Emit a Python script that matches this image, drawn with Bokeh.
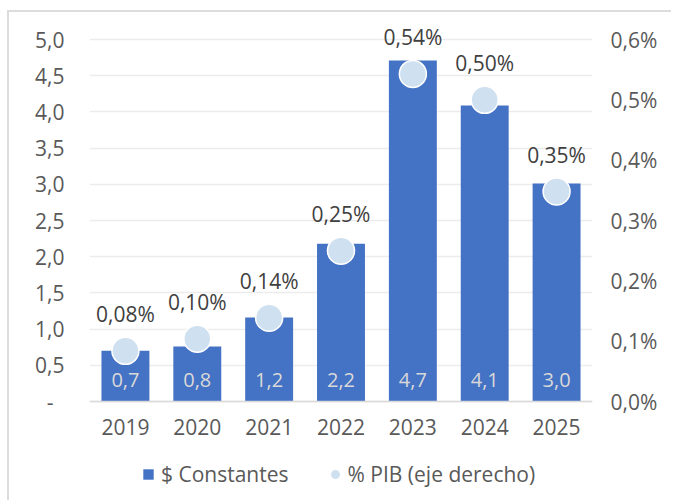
from bokeh.plotting import figure
from bokeh.models import (ColumnDataSource, Range1d, LinearAxis, FixedTicker,
                          CustomJSTickFormatter, Legend, LegendItem, Span)
from bokeh.core.properties import value
from bokeh.embed import file_html
from bokeh.resources import INLINE

# ---- data ----
years = ["2019", "2020", "2021", "2022", "2023", "2024", "2025"]
constantes = [0.70, 0.76, 1.16, 2.18, 4.71, 4.09, 3.01]
pct_pib = [0.084, 0.104, 0.139, 0.250, 0.543, 0.500, 0.348]
left_ticks = [0.0, 0.5, 1.0, 1.5, 2.0, 2.5, 3.0, 3.5, 4.0, 4.5, 5.0]
right_ticks = [0.0, 0.1, 0.2, 0.3, 0.4, 0.5, 0.6]

const_labels = [f"{v:.1f}".replace(".", ",") for v in constantes]
pct_labels = [f"{v:.2f}".replace(".", ",") + "%" for v in pct_pib]

FONT = "Open Sans"
FS = "21px"
BAR = "#4472C4"
DOT = "#cfe0f1"
AXIS_TXT = "#595959"
LBL_TXT = "#404040"

# the plot frame also covers the category labels and the legend strip
Y_MAX = 5.304
Y_MIN = -1.395
RATIO = 0.12  # 0.6% on the right == 5.0 on the left

src = ColumnDataSource(dict(year=years, const=constantes, pct=pct_pib,
                            const_label=const_labels, pct_label=pct_labels))

p = figure(x_range=years, y_range=Range1d(Y_MIN, Y_MAX), width=664, height=490,
           output_backend="svg", toolbar_location=None, x_axis_location=None,
           min_border_left=80, min_border_right=81, min_border_top=5,
           min_border_bottom=0, outline_line_color=None,
           background_fill_color="white", border_fill_color="white",
           margin=(10, 0, 0, 7),
           styles={"border-top": "2px solid #dcdcdc",
                   "border-left": "2px solid #dcdcdc"})

p.extra_y_ranges = {"pct": Range1d(Y_MIN * RATIO, Y_MAX * RATIO)}

# left axis
lt = FixedTicker(ticks=left_ticks)
p.yaxis.ticker = lt
p.yaxis.formatter = CustomJSTickFormatter(
    code="return tick == 0 ? '-\\u00a0\\u00a0' : tick.toFixed(1).replace('.', ',');")
p.ygrid.ticker = lt
p.ygrid.grid_line_color = "#ececec"
p.ygrid.grid_line_width = 1.5
p.xgrid.grid_line_color = None

# right axis
ra = LinearAxis(y_range_name="pct", ticker=FixedTicker(ticks=right_ticks),
                formatter=CustomJSTickFormatter(
                    code="return tick.toFixed(1).replace('.', ',') + '%';"))
p.add_layout(ra, "right")

for ax in [p.yaxis[0], ra]:
    ax.axis_line_color = None
    ax.major_tick_line_color = None
    ax.minor_tick_line_color = None
    ax.major_tick_out = 0
    ax.major_tick_in = 0
    ax.major_label_text_font = FONT
    ax.major_label_text_font_size = FS
    ax.major_label_text_color = AXIS_TXT
p.yaxis[0].major_label_standoff = 25
ra.major_label_standoff = 18

# category axis: baseline + labels
p.add_layout(Span(location=0, dimension="width", line_color="#d9d9d9",
                  line_width=1.5))
p.text(x="year", y=0, text="year", source=src, y_offset=25.5,
       text_align="center", text_baseline="middle",
       text_font=value(FONT), text_font_size=FS, text_color=AXIS_TXT)

# bars
p.vbar(x="year", top="const", bottom=0, width=0.667, source=src,
       fill_color=BAR, line_color=None)
p.text(x="year", y=0, text="const_label", source=src, y_offset=-22,
       text_align="center", text_baseline="middle",
       text_font=value(FONT), text_font_size="20px", text_color="#d9d9d9")

# dots (right axis)
dots = p.scatter(x="year", y="pct", y_range_name="pct", source=src, size=27,
                 fill_color=DOT, line_color="white", line_width=1.5)
p.text(x="year", y="pct", y_range_name="pct", text="pct_label", source=src,
       y_offset=-36.5, text_align="center", text_baseline="middle",
       text_font=value(FONT), text_font_size=FS, text_color=LBL_TXT)

# legend swatch for the bars (zero-size marker, only shown in the legend)
swatch = p.scatter(x="year", y="const", source=src, marker="square", size=0,
                   fill_color=BAR, line_color=None)
legend = Legend(items=[LegendItem(label="$ Constantes", renderers=[swatch]),
                       LegendItem(label="% PIB (eje derecho)", renderers=[dots])],
                orientation="horizontal", location=(46, 14),
                glyph_width=26, glyph_height=26, label_standoff=0, spacing=33,
                padding=0, margin=0, border_line_color=None,
                background_fill_alpha=0, label_text_font=FONT,
                label_text_font_size=FS, label_text_color=AXIS_TXT)
p.add_layout(legend, "center")

open("out.html", "w").write(file_html(p, INLINE))
